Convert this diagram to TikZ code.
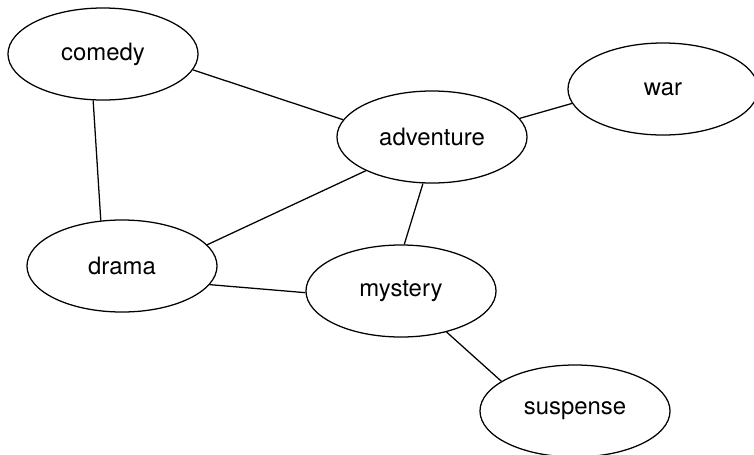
\documentclass[tikz,border=0pt]{standalone}
\usepackage{fontspec}
\setmainfont{TeX Gyre Heros}
\usetikzlibrary{shapes.geometric}

\begin{document}
\begin{tikzpicture}[x=0.025cm, y=-0.025cm,
        genre/.style={draw, ellipse, line width=0.9pt, minimum width=4.75cm, minimum height=2.3cm, inner sep=0pt, font=\fontsize{17}{20}\selectfont},
        link/.style={line width=0.9pt}]
        \useasboundingbox (0,0) rectangle (754,454);
        % Generos
        \node[genre] (comedy) at (103, 54) {comedy};
        \node[genre] (war) at (663, 89) {war};
        \node[genre] (adventure) at (432, 137) {adventure};
        \node[genre] (drama) at (122, 266) {drama};
        \node[genre] (mystery) at (401, 291) {mystery};
        \node[genre] (suspense) at (575, 411) {suspense};

        % Aristas
        \draw[link] (comedy.-10) -- (adventure.169);
        \draw[link] (comedy.-102) -- (drama.115);
        \draw[link] (adventure.12) -- (war.-171);
        \draw[link] (adventure.-153) -- (drama.14);
        \draw[link] (adventure.-101) -- (mystery.86);
        \draw[link] (drama.-12) -- (mystery.181);
        \draw[link] (mystery.-42) -- (suspense.158);
    \end{tikzpicture}
\end{document}
